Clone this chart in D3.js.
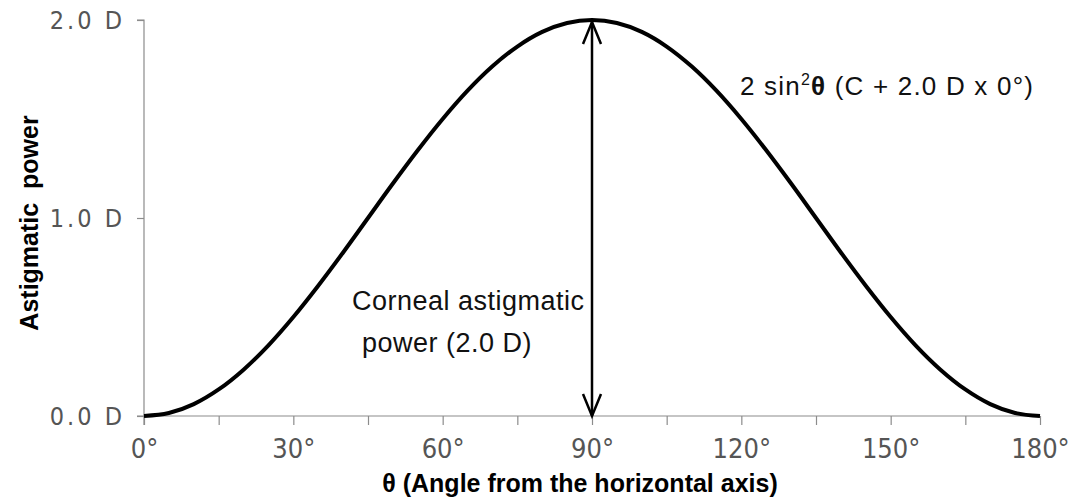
<!DOCTYPE html>
<html><head><meta charset="utf-8">
<script src="https://cdn.jsdelivr.net/npm/d3@7"></script>
<style>body{margin:0;background:#fff}svg{display:block}</style>
</head><body><svg id="c" width="1078" height="499"></svg>
<script>
const angles = [0,5,10,15,20,25,30,35,40,45,50,55,60,65,70,75,80,85,90,95,100,105,110,115,120,125,130,135,140,145,150,155,160,165,170,175,180];
const power = [0,0.015,0.06,0.134,0.234,0.357,0.5,0.658,0.826,1.0,1.174,1.342,1.5,1.643,1.766,1.866,1.94,1.985,2.0,1.985,1.94,1.866,1.766,1.643,1.5,1.342,1.174,1.0,0.826,0.658,0.5,0.357,0.234,0.134,0.06,0.015,0];
const xTicks = [0,15,30,45,60,75,90,105,120,135,150,165,180];
const xLabelTicks = [0,30,60,90,120,150,180];
const yTicks = [0,1,2];
const yTickLabels = ["0.0 D","1.0 D","2.0 D"];
const arrowAngle = 90, arrowFrom = 0, arrowTo = 2;

const svg = d3.select("#c");
const x = d3.scaleLinear().domain([0,180]).range([144,1040]);
const y = d3.scaleLinear().domain([0,2]).range([416,20]);
const axisColor = "#8c8c8c", labelColor = "#555";
const tickFont = "'DejaVu Sans Condensed','Liberation Sans Narrow',sans-serif";
const textFont = "'Liberation Sans',Arial,sans-serif";

// y axis
const ya = svg.append("g").attr("transform",`translate(${x(0)},0)`)
  .call(d3.axisLeft(y).tickValues(yTicks).tickSize(7).tickPadding(12).tickFormat((d,i)=>yTickLabels[i]));
ya.select(".domain").attr("stroke",axisColor).attr("stroke-width",1.2).attr("d",`M-7,${y(2)}H0V${y(0)+9}`);
ya.selectAll(".tick line").attr("stroke",axisColor).attr("stroke-width",1.2);
ya.selectAll(".tick text").attr("fill",labelColor).attr("font-family",tickFont).attr("font-size",25).attr("letter-spacing","3px").attr("font-weight",300);

// x axis
const xa = svg.append("g").attr("transform",`translate(0,${y(0)})`)
  .call(d3.axisBottom(x).tickValues(xTicks).tickSize(9).tickPadding(14).tickFormat(d=>xLabelTicks.includes(d)?d+"°":""));
xa.select(".domain").attr("stroke",axisColor).attr("stroke-width",1.2).attr("d",`M${x(0)-7},0H${x(180)}`);
xa.selectAll(".tick line").attr("stroke",axisColor).attr("stroke-width",1.2);
xa.selectAll(".tick text").attr("fill",labelColor).attr("font-family",tickFont).attr("font-size",27).attr("font-weight",300);

// curve
const line = d3.line().x((d,i)=>x(angles[i])).y(d=>y(d)).curve(d3.curveMonotoneX);
svg.append("path").datum(power).attr("d",line).attr("fill","none").attr("stroke","#000").attr("stroke-width",4).attr("stroke-linejoin","round");

// double arrow
const ax = x(arrowAngle), y1 = y(arrowTo)+2, y2 = y(arrowFrom);
svg.append("line").attr("x1",ax).attr("x2",ax).attr("y1",y1).attr("y2",y2).attr("stroke","#000").attr("stroke-width",2.5);
svg.append("path").attr("d",`M${ax-9},${y1+22}L${ax},${y1}L${ax+9},${y1+22}`).attr("fill","none").attr("stroke","#000").attr("stroke-width",2.5);
svg.append("path").attr("d",`M${ax-9},${y2-22}L${ax},${y2}L${ax+9},${y2-22}`).attr("fill","none").attr("stroke","#000").attr("stroke-width",2.5);

// axis titles
svg.append("text").attr("transform","translate(38,223) rotate(-90)").attr("text-anchor","middle")
  .attr("font-family",textFont).attr("font-weight","bold").attr("font-size",25).attr("xml:space","preserve").text("Astigmatic  power");
svg.append("text").attr("x",580).attr("y",492).attr("text-anchor","middle")
  .attr("font-family",textFont).attr("font-weight","bold").attr("font-size",25).text("θ (Angle from the horizontal axis)");

// annotations
const ann = svg.append("text").attr("x",740).attr("y",95).attr("font-family",textFont).attr("font-size",26).attr("fill","#111").attr("letter-spacing","1.2px");
ann.append("tspan").text("2 sin");
ann.append("tspan").attr("font-size",16).attr("dy",-10).text("2");
ann.append("tspan").attr("dy",10).attr("font-weight","bold").text("θ");
ann.append("tspan").text(" (C + 2.0 D x 0°)");
svg.append("text").attr("x",352).attr("y",310).attr("font-family",textFont).attr("font-size",27).attr("fill","#111").attr("letter-spacing","0.5px").text("Corneal astigmatic");
svg.append("text").attr("x",362).attr("y",352).attr("font-family",textFont).attr("font-size",27).attr("fill","#111").attr("letter-spacing","0.5px").text("power (2.0 D)");
</script></body></html>
